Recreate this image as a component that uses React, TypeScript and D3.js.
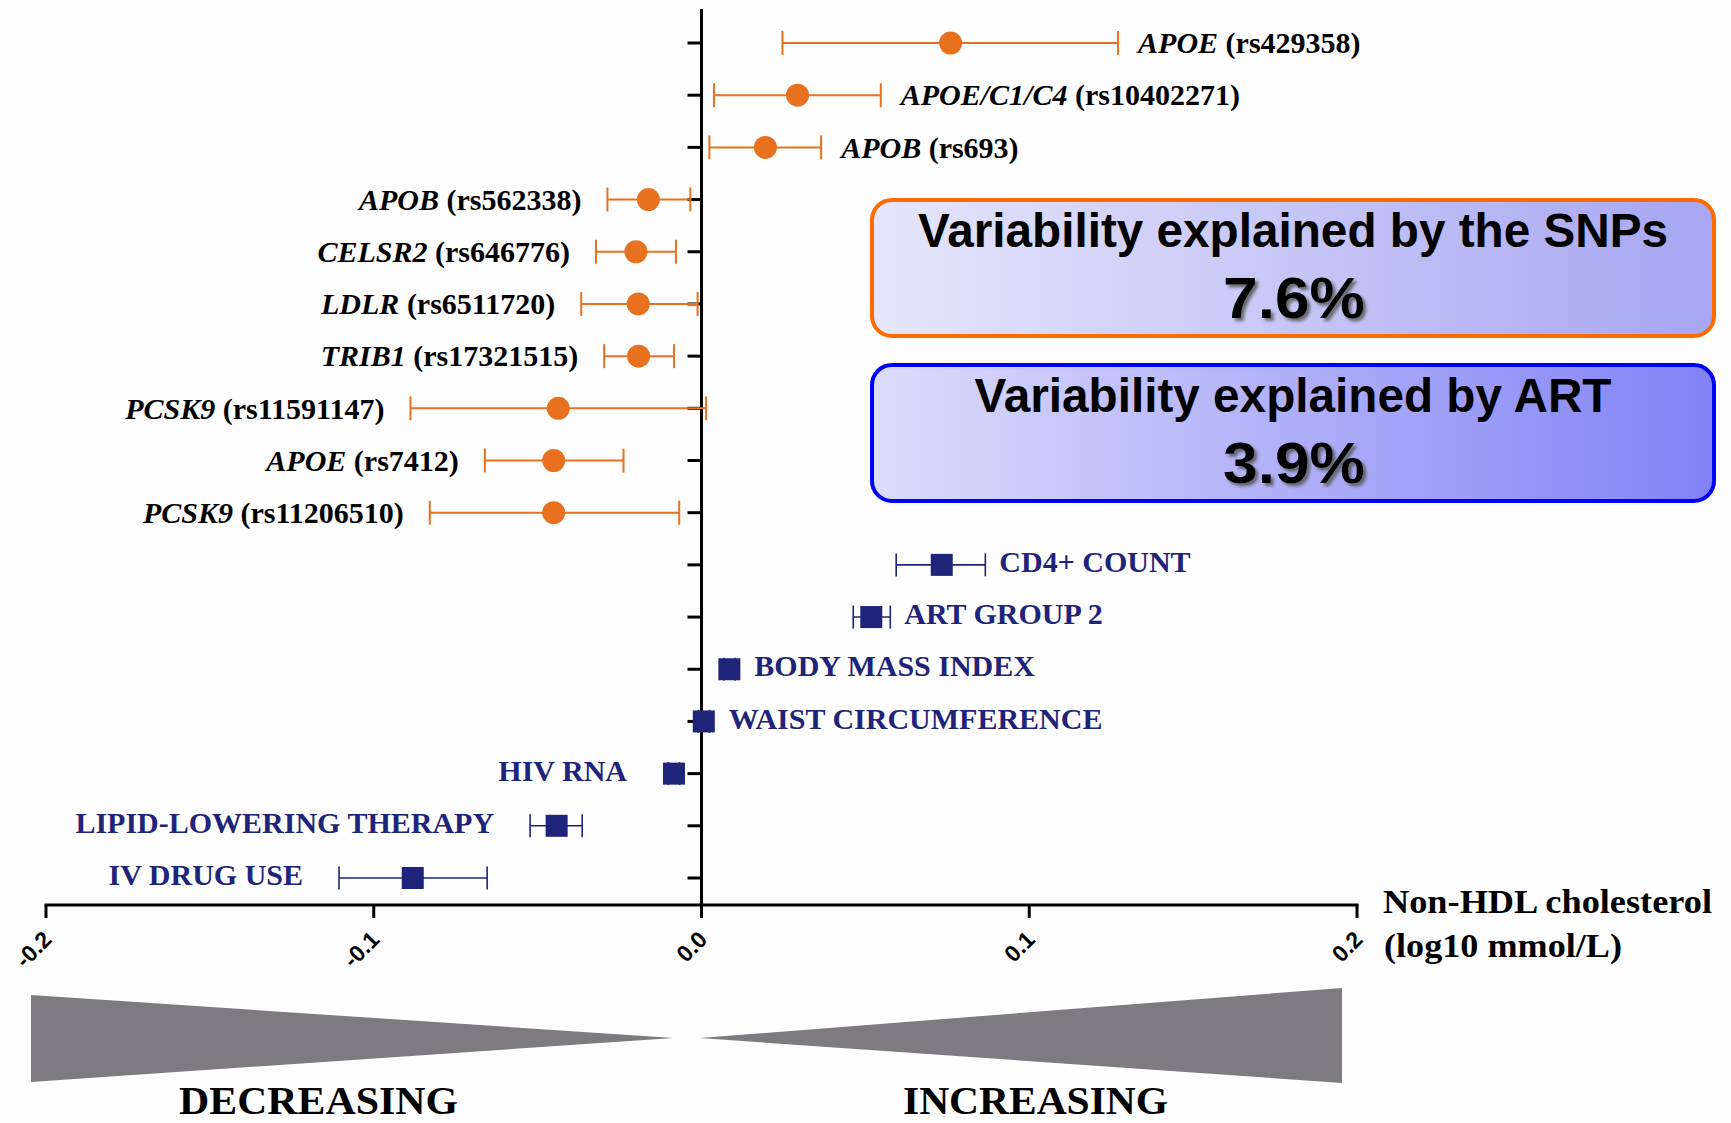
import * as d3 from "d3";
import React, { useEffect, useRef } from "react";

// SNP effects on non-HDL cholesterol (log10 mmol/L)
const snpGenes = ["APOE", "APOE/C1/C4", "APOB", "APOB", "CELSR2", "LDLR", "TRIB1", "PCSK9", "APOE", "PCSK9"];
const snpIds = ["rs429358", "rs10402271", "rs693", "rs562338", "rs646776", "rs6511720", "rs17321515", "rs11591147", "rs7412", "rs11206510"];
const snpEst = [0.076, 0.0293, 0.0195, -0.0162, -0.02, -0.0193, -0.0192, -0.0437, -0.0451, -0.0451];
const snpLo = [0.0247, 0.0038, 0.0024, -0.0287, -0.0322, -0.0367, -0.0297, -0.0888, -0.0661, -0.0829];
const snpHi = [0.1271, 0.0547, 0.0365, -0.0034, -0.0078, -0.0012, -0.0084, 0.0014, -0.0238, -0.0068];

// clinical covariates
const covNames = ["CD4+ COUNT", "ART GROUP 2", "BODY MASS INDEX", "WAIST CIRCUMFERENCE", "HIV RNA", "LIPID-LOWERING THERAPY", "IV DRUG USE"];
const covEst = [0.0733, 0.0518, 0.0085, 0.0007, -0.0084, -0.0442, -0.0881];
const covLo = [0.0594, 0.0463, 0.0068, -0.001, -0.0101, -0.0523, -0.1106];
const covHi = [0.0866, 0.0576, 0.0102, 0.0024, -0.0067, -0.0364, -0.0654];

const xTicks = [-0.2, -0.1, 0.0, 0.1, 0.2];
const varSnp = "7.6%";
const varArt = "3.9%";

const W = 1731;
const H = 1123;
const serif = "'Liberation Serif', 'Times New Roman', serif";
const sans = "'Liberation Sans Narrow', 'Liberation Sans', Arial, sans-serif";
const orange = "#E8711F";
const navy = "#1E2479";

const App = () => {
  const svgRef = useRef(null);

  useEffect(() => {
    const svg = d3.select(svgRef.current);
    svg.selectAll("*").remove();

    const x = d3.scaleLinear().domain([-0.2, 0.2]).range([46, 1357]);
    const nRows = snpEst.length + covEst.length;
    const y = d3.scalePoint<number>().domain(d3.range(nRows)).range([43, 878]);
    const axisY = 905;
    const x0 = x(0);

    const defs = svg.append("defs");
    const g1 = defs.append("linearGradient").attr("id", "gSnp");
    g1.append("stop").attr("offset", "0%").attr("stop-color", "#E6E6FB");
    g1.append("stop").attr("offset", "100%").attr("stop-color", "#A6A6F2");
    const g2 = defs.append("linearGradient").attr("id", "gArt");
    g2.append("stop").attr("offset", "0%").attr("stop-color", "#DCDCFA");
    g2.append("stop").attr("offset", "100%").attr("stop-color", "#8282F7");
    defs
      .append("filter")
      .attr("id", "shadow")
      .attr("x", "-20%")
      .attr("y", "-20%")
      .attr("width", "140%")
      .attr("height", "140%")
      .append("feDropShadow")
      .attr("dx", 3)
      .attr("dy", 3)
      .attr("stdDeviation", 1.5)
      .attr("flood-color", "#555")
      .attr("flood-opacity", 0.8);

    svg.append("rect").attr("width", W).attr("height", H).attr("fill", "#fdfdfd");

    // axes
    svg
      .append("line")
      .attr("x1", x0)
      .attr("x2", x0)
      .attr("y1", 9)
      .attr("y2", axisY + 1.5)
      .attr("stroke", "#000")
      .attr("stroke-width", 3);
    svg
      .append("g")
      .selectAll("line")
      .data(d3.range(nRows))
      .join("line")
      .attr("x1", x0 - 14)
      .attr("x2", x0)
      .attr("y1", (d) => y(d)!)
      .attr("y2", (d) => y(d)!)
      .attr("stroke", "#000")
      .attr("stroke-width", 3);

    svg
      .append("line")
      .attr("x1", x(-0.2) - 1.5)
      .attr("x2", x(0.2) + 1.5)
      .attr("y1", axisY)
      .attr("y2", axisY)
      .attr("stroke", "#000")
      .attr("stroke-width", 3);
    const tk = svg.append("g").selectAll("g").data(xTicks).join("g");
    tk.append("line")
      .attr("x1", (d) => x(d))
      .attr("x2", (d) => x(d))
      .attr("y1", axisY)
      .attr("y2", axisY + 13)
      .attr("stroke", "#000")
      .attr("stroke-width", 3);
    tk.append("text")
      .attr("transform", (d) => `translate(${x(d) + 7},${axisY + 36}) rotate(-45)`)
      .attr("text-anchor", "end")
      .style("font-family", "'Liberation Sans', Arial, sans-serif")
      .style("font-weight", "bold")
      .style("font-size", "23px")
      .text((d) => d.toFixed(1));

    svg
      .append("text")
      .attr("x", 1383)
      .attr("y", 913)
      .attr("textLength", 329)
      .attr("lengthAdjust", "spacingAndGlyphs")
      .style("font-family", serif)
      .style("font-weight", "bold")
      .style("font-size", "33px")
      .text("Non-HDL cholesterol");
    svg
      .append("text")
      .attr("x", 1384)
      .attr("y", 957)
      .attr("textLength", 238)
      .attr("lengthAdjust", "spacingAndGlyphs")
      .style("font-family", serif)
      .style("font-weight", "bold")
      .style("font-size", "33px")
      .text("(log10 mmol/L)");

    // SNP rows
    const snp = svg
      .append("g")
      .selectAll("g")
      .data(snpEst.map((e, i) => ({ e, lo: snpLo[i], hi: snpHi[i], gene: snpGenes[i], id: snpIds[i], row: i })))
      .join("g")
      .attr("transform", (d) => `translate(0,${y(d.row)})`);
    snp
      .append("line")
      .attr("x1", (d) => x(d.lo))
      .attr("x2", (d) => x(d.hi))
      .attr("stroke", orange)
      .attr("stroke-width", 2);
    ["lo", "hi"].forEach((k) => {
      snp
        .append("line")
        .attr("x1", (d: any) => x(d[k]))
        .attr("x2", (d: any) => x(d[k]))
        .attr("y1", -12)
        .attr("y2", 12)
        .attr("stroke", orange)
        .attr("stroke-width", 2);
    });
    snp.append("circle").attr("cx", (d) => x(d.e)).attr("r", 11.5).attr("fill", orange);
    const snpText = snp
      .append("text")
      .attr("x", (d) => (d.e >= 0 ? x(d.hi) + 20 : x(d.lo) - 26))
      .attr("dy", "0.34em")
      .attr("text-anchor", (d) => (d.e >= 0 ? "start" : "end"))
      .style("font-family", serif)
      .style("font-weight", "bold")
      .style("font-size", "30px");
    snpText.append("tspan").style("font-style", "italic").text((d) => d.gene);
    snpText.append("tspan").text((d) => ` (${d.id})`);

    // covariate rows
    const cov = svg
      .append("g")
      .selectAll("g")
      .data(covEst.map((e, i) => ({ e, lo: covLo[i], hi: covHi[i], name: covNames[i], row: snpEst.length + i })))
      .join("g")
      .attr("transform", (d) => `translate(0,${y(d.row)})`);
    cov
      .append("line")
      .attr("x1", (d) => x(d.lo))
      .attr("x2", (d) => x(d.hi))
      .attr("stroke", navy)
      .attr("stroke-width", 1.6);
    ["lo", "hi"].forEach((k) => {
      cov
        .append("line")
        .attr("x1", (d: any) => x(d[k]))
        .attr("x2", (d: any) => x(d[k]))
        .attr("y1", -11.5)
        .attr("y2", 11.5)
        .attr("stroke", navy)
        .attr("stroke-width", 1.6);
    });
    cov
      .append("rect")
      .attr("x", (d) => x(d.e) - 11)
      .attr("y", -11)
      .attr("width", 22)
      .attr("height", 22)
      .attr("fill", navy);
    cov
      .append("text")
      .attr("x", (d) => (d.e >= 0 ? Math.max(x(d.hi), x(d.e) + 11) + 14 : Math.min(x(d.lo), x(d.e) - 11) - 36))
      .attr("y", -3)
      .attr("dy", "0.34em")
      .attr("text-anchor", (d) => (d.e >= 0 ? "start" : "end"))
      .attr("fill", navy)
      .style("font-family", serif)
      .style("font-weight", "bold")
      .style("font-size", "30px")
      .text((d) => d.name);

    // explained-variability boxes
    const boxes = [
      { top: 200, stroke: "#FF6A00", fill: "url(#gSnp)", title: "Variability explained by the SNPs", tl: 750, value: varSnp },
      { top: 365, stroke: "#0000F2", fill: "url(#gArt)", title: "Variability explained by ART", tl: 637, value: varArt },
    ];
    const bx = svg.append("g").selectAll("g").data(boxes).join("g");
    bx.append("rect")
      .attr("x", 872)
      .attr("y", (d) => d.top)
      .attr("width", 842)
      .attr("height", 136)
      .attr("rx", 20)
      .attr("fill", (d) => d.fill)
      .attr("stroke", (d) => d.stroke)
      .attr("stroke-width", 4);
    bx.append("text")
      .attr("x", 1293)
      .attr("y", (d) => d.top + 47)
      .attr("text-anchor", "middle")
      .attr("textLength", (d) => d.tl)
      .attr("lengthAdjust", "spacingAndGlyphs")
      .style("font-family", sans)
      .style("font-weight", "bold")
      .style("font-size", "48px")
      .text((d) => d.title);
    bx.append("text")
      .attr("x", 1294)
      .attr("y", (d) => d.top + 118)
      .attr("text-anchor", "middle")
      .attr("textLength", 142)
      .attr("lengthAdjust", "spacingAndGlyphs")
      .attr("filter", "url(#shadow)")
      .style("font-family", sans)
      .style("font-weight", "bold")
      .style("font-size", "58px")
      .text((d) => d.value);

    // direction wedges
    const mid = 1038;
    svg
      .append("path")
      .attr("d", `M${x(-0.2) - 15},995 L${x(0) - 28},${mid} L${x(-0.2) - 15},1082 Z`)
      .attr("fill", "#7E7B80");
    svg
      .append("path")
      .attr("d", `M${x(0) - 2},${mid} L${x(0.2) - 15},988 L${x(0.2) - 15},1083 Z`)
      .attr("fill", "#7E7B80");
    [
      { t: "DECREASING", x: 179, w: 279 },
      { t: "INCREASING", x: 903, w: 265 },
    ].forEach((d) => {
      svg
        .append("text")
        .attr("x", d.x)
        .attr("y", 1114)
        .attr("textLength", d.w)
        .attr("lengthAdjust", "spacingAndGlyphs")
        .style("font-family", serif)
        .style("font-weight", "bold")
        .style("font-size", "40px")
        .text(d.t);
    });
  }, []);

  return (
    <svg
      ref={svgRef}
      width={W}
      height={H}
      style={{ position: "absolute", left: 0, top: 0, display: "block" }}
    ></svg>
  );
};

export default App;
